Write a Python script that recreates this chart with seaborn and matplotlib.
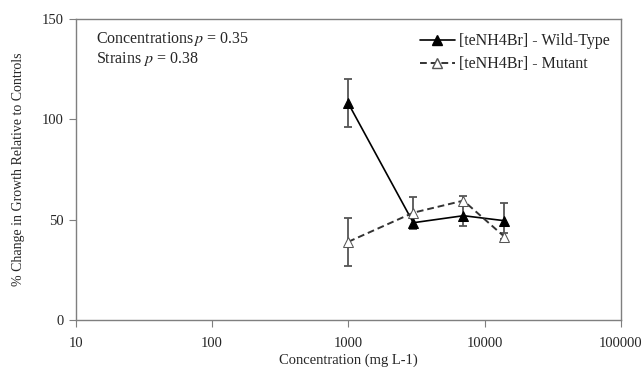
import numpy as np
import pandas as pd
import matplotlib
matplotlib.use('Agg')
import matplotlib.pyplot as plt
import seaborn as sns
from matplotlib.lines import Line2D

# values
conc = [1000, 3000, 7000, 14000]
wild_type = [108, 48.5, 52, 49.5]
wild_type_err = [12, 2.5, 5, 9]
mutant = [39, 53.5, 59.5, 41.5]
mutant_err = [12, 8, 2.5, 2]

x_ticks = [10, 100, 1000, 10000, 100000]
y_ticks = [0, 50, 100, 150]

sns.set_style('white')
plt.rcParams['font.family'] = ['Liberation Serif', 'DejaVu Serif']
plt.rcParams['mathtext.fontset'] = 'stix'

wt = pd.DataFrame({'conc': conc, 'value': wild_type, 'err': wild_type_err})
mu = pd.DataFrame({'conc': conc, 'value': mutant, 'err': mutant_err})

fig = plt.figure(figsize=(6.42, 3.67), dpi=100)
ax = fig.add_axes([0.118, 0.128, 0.849, 0.82])

grey = '#7f7f7f'
for sub in (wt, mu):
    ax.errorbar(sub['conc'], sub['value'], yerr=sub['err'], fmt='none',
                ecolor='#555555', elinewidth=1.3, capsize=3, capthick=1.3, zorder=2)

wt_style = dict(color='black', lw=1.2, marker='^', markerfacecolor='black',
                markeredgecolor='black', markersize=6.5)
mu_style = dict(color='#333333', lw=1.4, ls=(0, (3.5, 2)), marker='^',
                markerfacecolor='white', markeredgecolor='#555555', markersize=6.5)

sns.lineplot(data=wt, x='conc', y='value', ax=ax, zorder=3, **wt_style)
sns.lineplot(data=mu, x='conc', y='value', ax=ax, zorder=3, **mu_style)

ax.set_xscale('log')
ax.set_xlim(10, 100000)
ax.set_ylim(0, 150)
ax.set_xticks(x_ticks)
ax.set_xticklabels([str(t) for t in x_ticks])
ax.minorticks_off()
ax.set_yticks(y_ticks)
ax.tick_params(axis='both', direction='out', length=5, color=grey, labelsize=10.5,
               bottom=True, left=True, pad=4)
ax.tick_params(axis='x', pad=7)
for s in ax.spines.values():
    s.set_color(grey)
    s.set_linewidth(1)

ax.set_xlabel('Concentration (mg L-1)', fontsize=10.5, labelpad=3)
ax.set_ylabel('% Change in Growth Relative to Controls', fontsize=10, labelpad=12)

ax.text(0.037, 0.933, r'Concentrations$\,p$ = 0.35', transform=ax.transAxes,
        fontsize=11.5, va='center')
ax.text(0.037, 0.867, r'Strains $p$ = 0.38', transform=ax.transAxes,
        fontsize=11.5, va='center')

handles = [Line2D([], [], **wt_style), Line2D([], [], **mu_style)]
ax.legend(handles, ['[teNH4Br] - Wild-Type', '[teNH4Br] - Mutant'], loc='upper right',
          frameon=False, fontsize=11.5, handlelength=2.2, handletextpad=0.25,
          bbox_to_anchor=(1.0, 0.99), labelspacing=0.45, borderaxespad=0.3)

fig.savefig('out.png', dpi=100)
